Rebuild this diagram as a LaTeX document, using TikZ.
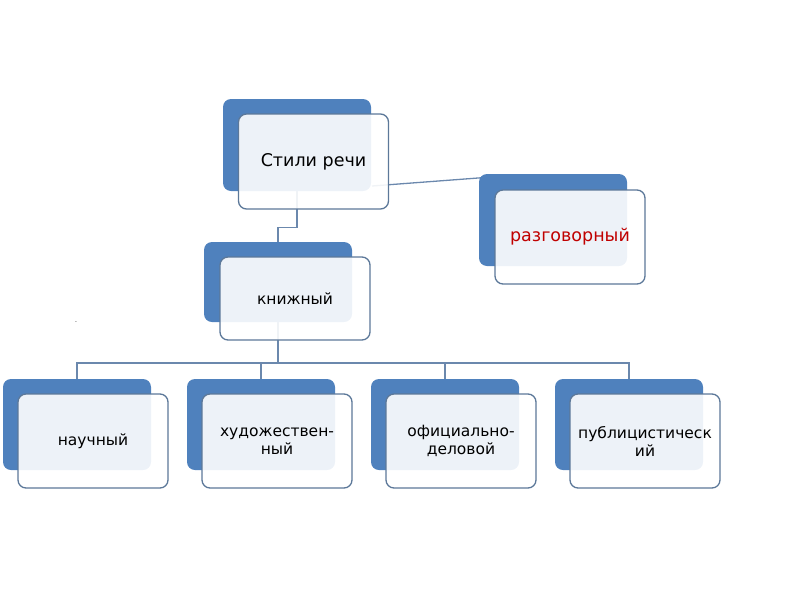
\documentclass[tikz,border=0pt]{standalone}
\usepackage{fontspec}
\setmainfont{DejaVu Sans}
\usetikzlibrary{calc}
\definecolor{backblue}{HTML}{4F81BD}
\definecolor{frontline}{HTML}{5C7899}
\definecolor{connline}{HTML}{6B88AD}
\definecolor{darkred}{HTML}{C00000}
\pgfdeclarelayer{bg}
\pgfsetlayers{bg,main}
\begin{document}
\begin{tikzpicture}[x=1pt,y=-1pt,
  backbox/.style={draw=none,fill=backblue,rounded corners=8pt,minimum width=148pt,inner sep=0pt},
  frontbox/.style={draw=frontline,line width=1.3pt,fill=white,fill opacity=0.9,text opacity=1,rounded corners=8pt,minimum width=150pt,inner sep=0pt,align=center,font=\fontsize{15.5}{18}\selectfont},
  bigtext/.style={font=\fontsize{17.5}{20}\selectfont},
  conn/.style={draw=connline,line width=1.3pt}]
\useasboundingbox (0,0) rectangle (800,600);
% back boxes
\node[backbox,minimum height=92pt] (bT) at (297,145) {};
\node[backbox,minimum height=80pt] (bK) at (278,282) {};
\node[backbox,minimum height=92pt] (bR) at (553,220) {};
\node[backbox,minimum height=91pt] (b1) at (77,424.5) {};
\node[backbox,minimum height=91pt] (b2) at (261,424.5) {};
\node[backbox,minimum height=91pt] (b3) at (445,424.5) {};
\node[backbox,minimum height=91pt] (b4) at (629,424.5) {};
% connectors
\coordinate (c1) at (372,186);
\coordinate (bus) at (278,363);
\begin{pgfonlayer}{bg}
\draw[conn] (c1) -- ($(bR.north west)+(2,4)$);
\draw[conn] (bT.south) -- ++(0,36) -| (bK.north);
\draw[conn] (bK.south) -- (bus);
\foreach \i in {1,2,3,4} {\draw[conn] (bus) -| (b\i.north);}
\end{pgfonlayer}
% front boxes
\node[frontbox,bigtext,minimum height=95pt] (fT) at (313.5,161.5) {Стили речи};
\node[frontbox,minimum height=83pt] (fK) at (295,298.5) {книжный};
\node[frontbox,bigtext,minimum height=94pt,text=darkred] (fR) at (570,237) {разговорный};
\node[frontbox,minimum height=94pt] (f1) at (93,441) {научный};
\node[frontbox,minimum height=94pt] (f2) at (277,441) {художествен-\\ный};
\node[frontbox,minimum height=94pt] (f3) at (461,441) {официально-\\деловой};
\node[frontbox,minimum height=94pt] (f4) at (645,441) {публицистическ\\ий};
\node[font=\fontsize{6}{6}\selectfont,inner sep=0pt] (dot) at (76,322) {.};
\end{tikzpicture}
\end{document}
